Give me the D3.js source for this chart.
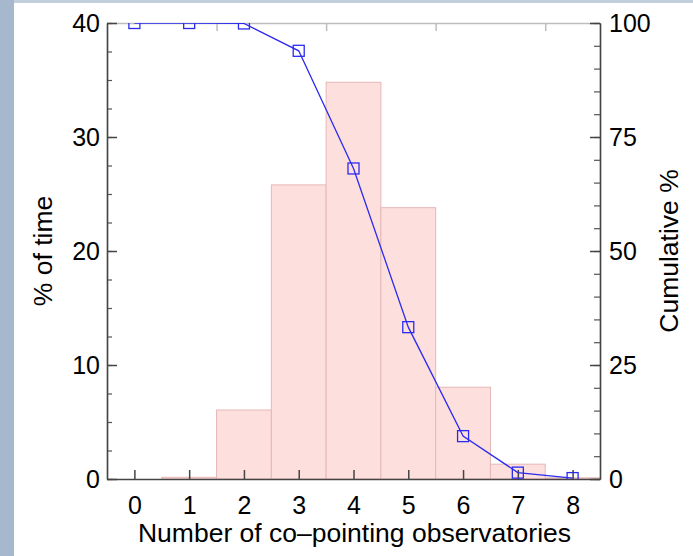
<!DOCTYPE html>
<html>
<head>
<meta charset="utf-8">
<script src="https://cdn.jsdelivr.net/npm/d3@7"></script>
<style>
  body { margin: 0; background: #fff; }
  svg text { font-family: "Liberation Sans", Arial, Helvetica, sans-serif; fill: #000; }
</style>
</head>
<body>
<svg id="chart"></svg>
<script>
// number of co-pointing observatories
const counts = [0, 1, 2, 3, 4, 5, 6, 7, 8];
// % of time (histogram)
const pctTime = [0, 0.15, 6.05, 25.8, 34.8, 23.8, 8.05, 1.3, 0.1];
// cumulative % (time with >= N observatories)
const cumPct = [100, 100, 99.9, 93.9, 68.1, 33.3, 9.4, 1.4, 0.2];
const leftTicks = [0, 10, 20, 30, 40];
const rightTicks = [0, 25, 50, 75, 100];

const W = 693, H = 556;
const m = {top: 23, right: 93, bottom: 77, left: 107};
const iw = W - m.left - m.right, ih = H - m.top - m.bottom;

const svg = d3.select('#chart').attr('width', W).attr('height', H);

// slide background
svg.append('rect').attr('width', W).attr('height', H).attr('fill', '#fff');
svg.append('rect').attr('x', 0).attr('y', 0).attr('width', W).attr('height', 3).attr('fill', '#c2cfdd');
svg.append('rect').attr('x', 0).attr('y', 0).attr('width', 14).attr('height', H).attr('fill', '#a5b8ce');

const x = d3.scaleLinear().domain([-0.5, 8.5]).range([0, iw]);
const y = d3.scaleLinear().domain([0, 40]).range([ih, 0]);
const y2 = d3.scaleLinear().domain([0, 100]).range([ih, 0]);

const g = svg.append('g').attr('transform', `translate(${m.left},${m.top})`);

svg.append('clipPath').attr('id', 'plotclip')
  .append('rect').attr('x', 0).attr('y', 0).attr('width', iw).attr('height', ih);

// bars
g.selectAll('rect.bar').data(counts).enter().append('rect')
  .attr('class', 'bar')
  .attr('x', d => x(d - 0.5))
  .attr('width', d => x(d + 0.5) - x(d - 0.5))
  .attr('y', (d, i) => y(pctTime[i]))
  .attr('height', (d, i) => ih - y(pctTime[i]))
  .attr('fill', '#fde0dd')
  .attr('stroke', '#e6b7b7')
  .attr('stroke-width', 1);

// top axis (light)
const topAxis = g.append('g')
  .call(d3.axisTop(x).tickValues([1.5, 3.5, 5.5, 7.5]).tickSizeInner(-8).tickSizeOuter(0).tickFormat(''));
topAxis.selectAll('path, line').attr('stroke', '#bdbdbd').attr('stroke-width', 1.5);

// bottom axis
const bottomAxis = g.append('g').attr('transform', `translate(0,${ih})`)
  .call(d3.axisBottom(x).tickValues(counts).tickSizeInner(-9).tickSizeOuter(0).tickPadding(17).tickFormat(d3.format('d')));
bottomAxis.selectAll('path, line').attr('stroke', '#444').attr('stroke-width', 1.5);
bottomAxis.selectAll('text').attr('font-size', 25);

// left axis
const leftMinor = g.append('g')
  .call(d3.axisLeft(y).tickValues(d3.range(0, 40.1, 2.5)).tickSizeInner(-5).tickSizeOuter(0).tickFormat(''));
leftMinor.selectAll('path, line').attr('stroke', '#555').attr('stroke-width', 1.2);
const leftAxis = g.append('g')
  .call(d3.axisLeft(y).tickValues(leftTicks).tickSizeInner(-10).tickSizeOuter(0).tickPadding(7));
leftAxis.selectAll('path, line').attr('stroke', '#444').attr('stroke-width', 1.5);
leftAxis.selectAll('text').attr('font-size', 25);

// right axis
const rightMinor = g.append('g').attr('transform', `translate(${iw},0)`)
  .call(d3.axisRight(y2).tickValues(d3.range(0, 100.1, 5)).tickSizeInner(-6).tickSizeOuter(0).tickFormat(''));
rightMinor.selectAll('path, line').attr('stroke', '#555').attr('stroke-width', 1.2);
const rightAxis = g.append('g').attr('transform', `translate(${iw},0)`)
  .call(d3.axisRight(y2).tickValues(rightTicks).tickSizeInner(-10).tickSizeOuter(0).tickPadding(9));
rightAxis.selectAll('path, line').attr('stroke', '#444').attr('stroke-width', 1.5);
rightAxis.selectAll('text').attr('font-size', 25);

// cumulative line + square markers
const cum = counts.map((c, i) => ({c, v: cumPct[i]}));
const lineLayer = g.append('g').attr('clip-path', 'url(#plotclip)');
lineLayer.append('path').datum(cum)
  .attr('d', d3.line().x(d => x(d.c)).y(d => y2(d.v)))
  .attr('fill', 'none')
  .attr('stroke', '#2b2bf0')
  .attr('stroke-width', 1.3);
const sq = 11;
lineLayer.selectAll('rect.mk').data(cum).enter().append('rect')
  .attr('class', 'mk')
  .attr('x', d => x(d.c) - sq / 2)
  .attr('y', d => y2(d.v) - sq / 2)
  .attr('width', sq).attr('height', sq)
  .attr('fill', 'none')
  .attr('stroke', '#2b2bf0')
  .attr('stroke-width', 1.3);

// axis titles
svg.append('text')
  .attr('x', m.left + iw / 2 + 1).attr('y', 542)
  .attr('text-anchor', 'middle').attr('font-size', 26.5)
  .text('Number of co–pointing observatories');
svg.append('text')
  .attr('transform', 'translate(52,251) rotate(-90)')
  .attr('text-anchor', 'middle').attr('font-size', 26.5)
  .text('% of time');
svg.append('text')
  .attr('transform', 'translate(678,251) rotate(-90)')
  .attr('text-anchor', 'middle').attr('font-size', 26.5)
  .text('Cumulative %');
</script>
</body>
</html>
